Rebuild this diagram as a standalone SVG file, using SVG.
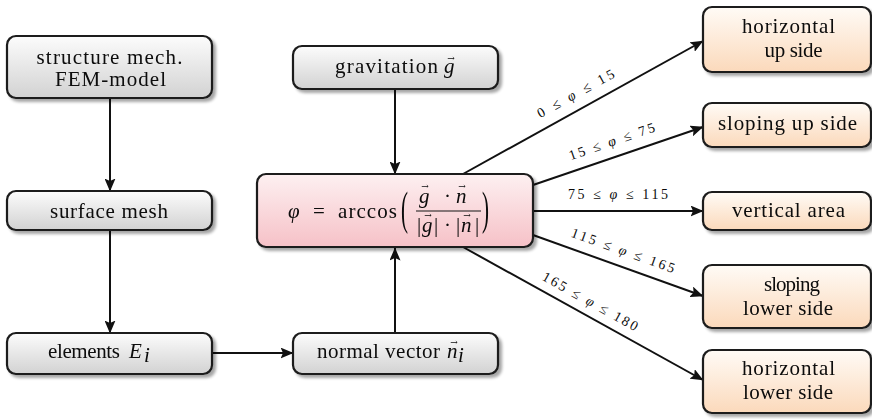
<svg xmlns="http://www.w3.org/2000/svg" width="872" height="419" viewBox="0 0 872 419">
<style>
text{font-family:'Liberation Serif','Times New Roman',Times,serif;fill:#0a0a0a}
.t{font-size:21px;text-anchor:middle}
.tl{font-size:21px}
.i{font-style:italic}
.v{font-family:'DejaVu Serif','Liberation Serif',serif;font-size:9px;text-anchor:middle}
.lab{font-size:14px;text-anchor:middle}
.box{stroke:#1a1a1a;stroke-width:2.2}
.gray{fill:url(#gGray)}
.pink{fill:url(#gPink)}
.orange{fill:url(#gOrange)}
.c{fill:none;stroke:#111;stroke-width:2;marker-end:url(#ah)}
</style>
<defs>
<linearGradient id="gGray" x1="0" y1="0" x2="0" y2="1"><stop offset="0" stop-color="#fcfcfc"/><stop offset="1" stop-color="#d2d2d2"/></linearGradient>
<linearGradient id="gPink" x1="0" y1="0" x2="0" y2="1"><stop offset="0" stop-color="#fdf0f1"/><stop offset="1" stop-color="#f6c1c7"/></linearGradient>
<linearGradient id="gOrange" x1="0" y1="0" x2="0" y2="1"><stop offset="0" stop-color="#fffbf6"/><stop offset="1" stop-color="#fbd9bb"/></linearGradient>
<filter id="sh" x="-10%" y="-10%" width="125%" height="140%">
<feGaussianBlur in="SourceAlpha" stdDeviation="1.6"/>
<feOffset dx="3" dy="3" result="o"/>
<feComponentTransfer><feFuncA type="linear" slope="0.35"/></feComponentTransfer>
<feMerge><feMergeNode/><feMergeNode in="SourceGraphic"/></feMerge>
</filter>
<marker id="ah" viewBox="0 0 13 11" refX="12.5" refY="5.5" markerWidth="13" markerHeight="11" markerUnits="userSpaceOnUse" orient="auto">
<path d="M0,0 L13,5.5 L0,11 L2.5,5.5 z" fill="#111"/>
</marker>
</defs>
<rect width="872" height="419" fill="#ffffff"/>

<g id="connectors">
<path class="c" d="M110,98 L110,191"/>
<path class="c" d="M110,230 L110,333"/>
<path class="c" d="M212,353 L293,353"/>
<path class="c" d="M395,89 L395,174"/>
<path class="c" d="M395,333 L395,248"/>
<path class="c" d="M463,174 L703,41"/>
<path class="c" d="M533,185 L703,127"/>
<path class="c" d="M533,211 L703,211"/>
<path class="c" d="M533,235 L703,296"/>
<path class="c" d="M463,247 L703,380"/>
<g id="labels">
<text class="lab" transform="translate(576,94) rotate(-28.8)" y="4" textLength="86" lengthAdjust="spacing">0 ≤ <tspan class="i">φ</tspan> ≤ 15</text>
<text class="lab" transform="translate(612,142) rotate(-18.8)" y="4" textLength="90" lengthAdjust="spacing">15 ≤ <tspan class="i">φ</tspan> ≤ 75</text>
<text class="lab" x="618" y="199" textLength="100" lengthAdjust="spacing">75 ≤ <tspan class="i">φ</tspan> ≤ 115</text>
<text class="lab" transform="translate(623,251) rotate(19.7)" y="4" textLength="109" lengthAdjust="spacing">115 ≤ <tspan class="i">φ</tspan> ≤ 165</text>
<text class="lab" transform="translate(590,302) rotate(29)" y="4" textLength="107" lengthAdjust="spacing">165 ≤ <tspan class="i">φ</tspan> ≤ 180</text>
</g>
</g>

<g id="fem-model" filter="url(#sh)">
<rect class="box gray" x="7" y="36" width="205" height="62" rx="9"/>
<text class="t" x="109.5" y="64" textLength="146" lengthAdjust="spacing">structure mech.</text>
<text class="t" x="110.5" y="86" textLength="111" lengthAdjust="spacing">FEM-model</text>
</g>

<g id="surface-mesh" filter="url(#sh)">
<rect class="box gray" x="7" y="191" width="205" height="39" rx="9"/>
<text class="t" x="109" y="218" textLength="118" lengthAdjust="spacing">surface mesh</text>
</g>

<g id="elements" filter="url(#sh)">
<rect class="box gray" x="7" y="333" width="205" height="41" rx="9"/>
<text class="tl" x="48" y="358" textLength="72" lengthAdjust="spacing">elements</text>
<text class="tl i" x="129" y="358">E</text>
<text class="tl i" x="144" y="362" font-size="13">i</text>
</g>

<g id="normal-vector" filter="url(#sh)">
<rect class="box gray" x="293" y="333" width="205" height="41" rx="9"/>
<text class="tl" x="317" y="358" textLength="123" lengthAdjust="spacing">normal vector</text>
<text class="tl i" x="447" y="358">n</text>
<text class="v" x="454" y="345">→</text>
<text class="tl i" x="458" y="362" font-size="13">i</text>
</g>

<g id="gravitation" filter="url(#sh)">
<rect class="box gray" x="293" y="46" width="205" height="43" rx="9"/>
<text class="tl" x="335" y="73" textLength="103" lengthAdjust="spacing">gravitation</text>
<text class="tl i" x="444" y="73">g</text>
<text class="v" x="451" y="61">→</text>
</g>

<g id="formula" filter="url(#sh)">
<rect class="box pink" x="257" y="174" width="276" height="73" rx="9"/>
<text class="tl i" x="288" y="218" font-size="22">φ</text>
<text class="tl" x="313" y="218" font-size="22">=</text>
<text class="tl" x="338" y="218" font-size="22" textLength="59" lengthAdjust="spacing">arccos</text>
<text class="tl" transform="translate(401,224) scale(1,2.2)" font-size="24">(</text>
<text class="tl" transform="translate(482,224) scale(1,2.2)" font-size="24">)</text>
<text class="tl i" x="419" y="203">g</text>
<text class="v" x="425" y="189">→</text>
<text class="tl" x="444" y="203">·</text>
<text class="tl i" x="456" y="203">n</text>
<text class="v" x="462" y="189">→</text>
<line x1="416" y1="211" x2="481" y2="211" stroke="#151515" stroke-width="1.2"/>
<text class="tl" x="417" y="232">|</text>
<text class="tl i" x="422" y="232">g</text>
<text class="v" x="428" y="218">→</text>
<text class="tl" x="434" y="232">|</text>
<text class="tl" x="444" y="232">·</text>
<text class="tl" x="456" y="232">|</text>
<text class="tl i" x="461" y="232">n</text>
<text class="v" x="467" y="218">→</text>
<text class="tl" x="475" y="232">|</text>
</g>

<g id="horizontal-up-side" filter="url(#sh)">
<rect class="box orange" x="703" y="7" width="168" height="65" rx="9"/>
<text class="t" x="788.5" y="33" textLength="93" lengthAdjust="spacing">horizontal</text>
<text class="t" x="793.5" y="57" textLength="58" lengthAdjust="spacing">up side</text>
</g>

<g id="sloping-up-side" filter="url(#sh)">
<rect class="box orange" x="703" y="103" width="168" height="44" rx="9"/>
<text class="t" x="787.5" y="130" textLength="139" lengthAdjust="spacing">sloping up side</text>
</g>

<g id="vertical-area" filter="url(#sh)">
<rect class="box orange" x="703" y="192" width="168" height="38" rx="9"/>
<text class="t" x="788.5" y="217" textLength="113" lengthAdjust="spacing">vertical area</text>
</g>

<g id="sloping-lower-side" filter="url(#sh)">
<rect class="box orange" x="703" y="265" width="168" height="63" rx="9"/>
<text class="t" x="792" y="291" textLength="56" lengthAdjust="spacing">sloping</text>
<text class="t" x="788" y="315" textLength="90" lengthAdjust="spacing">lower side</text>
</g>

<g id="horizontal-lower-side" filter="url(#sh)">
<rect class="box orange" x="703" y="350" width="168" height="63" rx="9"/>
<text class="t" x="788.5" y="375" textLength="93" lengthAdjust="spacing">horizontal</text>
<text class="t" x="788" y="399" textLength="90" lengthAdjust="spacing">lower side</text>
</g>
</svg>
